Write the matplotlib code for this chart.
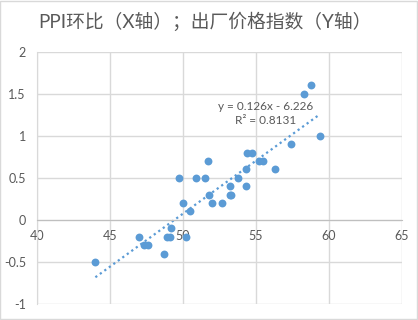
import numpy as np
import matplotlib.pyplot as plt
from matplotlib.patches import Rectangle

plt.rcParams['font.family'] = ['Lato', 'Noto Sans CJK SC', 'DejaVu Sans']

# PPI环比 (x) et indice prix sortie usine (y)
ppi_x = [44.0, 47.0, 47.3, 47.6, 48.7, 48.9, 49.1, 49.2, 50.2, 50.0, 50.5,
         49.7, 50.9, 51.5, 51.7, 51.8, 52.0, 52.7, 53.2, 53.2, 53.3, 53.8,
         54.3, 54.3, 54.4, 54.7, 55.2, 55.5, 56.3, 57.4, 58.3, 58.8, 59.4]
prix_y = [-0.5, -0.2, -0.3, -0.3, -0.4, -0.2, -0.2, -0.1, -0.2, 0.2, 0.1,
          0.5, 0.5, 0.5, 0.7, 0.3, 0.2, 0.2, 0.4, 0.3, 0.3, 0.5,
          0.6, 0.4, 0.8, 0.8, 0.7, 0.7, 0.6, 0.9, 1.5, 1.6, 1.0]

pente = 0.126
origine = -6.226
r2 = 0.8131

x_ticks = [40, 45, 50, 55, 60, 65]
y_ticks = [-1, -0.5, 0, 0.5, 1, 1.5, 2]

bleu = '#5B9BD5'
gris_txt = '#595959'

fig = plt.figure(figsize=(4.18, 3.2), dpi=100)
fig.patches.append(Rectangle((0.001, 0.002), 0.997, 0.995, transform=fig.transFigure,
                             fill=False, edgecolor='#D9D9D9', linewidth=1))
ax = fig.add_axes([0.0885, 0.05, 0.873, 0.7884])

ax.scatter(ppi_x, prix_y, s=32, color=bleu, zorder=3, linewidths=0)

# droite de tendance
xs = np.array([min(ppi_x), max(ppi_x)])
ax.plot(xs, pente * xs + origine, linestyle=(0, (1, 1.5)), color=bleu, linewidth=1.6, zorder=2)

ax.text(55.65, 1.35, f'y = {pente}x - {abs(origine)}', ha='center', va='center',
        fontsize=8.5, color=gris_txt)
ax.text(55.65, 1.18, f'R² = {r2}', ha='center', va='center', fontsize=8.5, color=gris_txt)

ax.set_xlim(40, 65)
ax.set_ylim(-1, 2)
ax.set_xticks(x_ticks)
ax.set_yticks(y_ticks)
ax.set_yticklabels([f'{v:g}' for v in y_ticks])
ax.grid(True, color='#D9D9D9', linewidth=1)
ax.set_axisbelow(True)

ax.spines['bottom'].set_position(('data', 0))
ax.spines['bottom'].set_color('#BFBFBF')
ax.spines['left'].set_color('#D9D9D9')
ax.spines['top'].set_visible(False)
ax.spines['right'].set_visible(False)
ax.tick_params(axis='both', length=0, labelsize=9, labelcolor=gris_txt)
ax.tick_params(axis='x', pad=7)
ax.tick_params(axis='y', pad=8)

fig.text(0.49, 0.932, 'PPI环比（X轴）；出厂价格指数（Y轴）', ha='center', va='center',
         fontsize=13.5, color=gris_txt)

fig.savefig('out.png', dpi=100)
